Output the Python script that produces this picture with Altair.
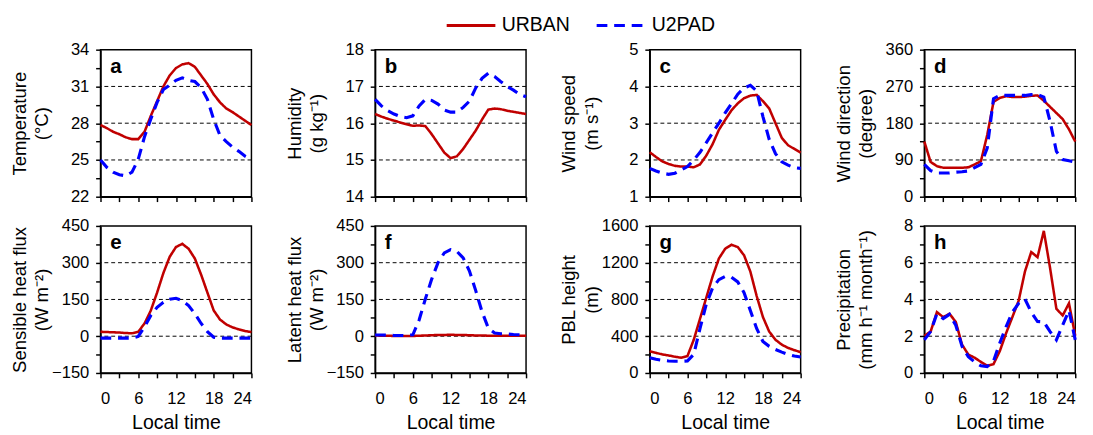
import altair as alt
import pandas as pd

# ---------------- data ----------------
hours = list(range(25))
series_names = ["URBAN", "U2PAD"]
x_ticks = [0, 3, 6, 9, 12, 15, 18, 21, 24]
x_labels = [0, 6, 12, 18, 24]

# a Temperature
temp_urban = [27.85, 27.6, 27.3, 27.1, 26.85, 26.7, 26.7, 27.3, 28.6, 29.8, 31.0, 31.9, 32.5,
              32.8, 32.9, 32.6, 31.9, 31.2, 30.35, 29.7, 29.2, 28.9, 28.55, 28.2, 27.85]
temp_u2pad = [25.0, 24.4, 24.0, 23.8, 23.7, 24.0, 25.05, 26.9, 28.35, 29.7, 30.75, 31.1, 31.5,
              31.7, 31.5, 31.4, 30.9, 29.95, 28.3, 27.0, 26.5, 26.05, 25.7, 25.3, 25.0]
temp_ticks = [22, 23.5, 25, 26.5, 28, 29.5, 31, 32.5, 34]
temp_labels = [22, 25, 28, 31, 34]
temp_grid = [25, 28, 31]

# b Humidity
hum_urban = [16.25, 16.18, 16.12, 16.07, 16.02, 15.97, 15.93, 15.94, 15.92, 15.7, 15.45, 15.2, 15.05,
             15.1, 15.3, 15.55, 15.8, 16.1, 16.37, 16.4, 16.38, 16.34, 16.31, 16.28, 16.25]
hum_u2pad = [16.65, 16.47, 16.34, 16.25, 16.18, 16.15, 16.2, 16.47, 16.65, 16.62, 16.52, 16.36, 16.3,
             16.3, 16.43, 16.6, 16.96, 17.22, 17.36, 17.27, 17.13, 17.0, 16.9, 16.78, 16.72]
hum_ticks = [14, 14.5, 15, 15.5, 16, 16.5, 17, 17.5, 18]
hum_labels = [14, 15, 16, 17, 18]
hum_grid = [15, 16, 17]

# c Wind speed
ws_urban = [2.21, 2.08, 1.96, 1.89, 1.84, 1.82, 1.82, 1.8, 1.88, 2.12, 2.43, 2.82, 3.09,
            3.35, 3.54, 3.68, 3.75, 3.77, 3.6, 3.4, 3.0, 2.6, 2.4, 2.3, 2.2]
ws_u2pad = [1.77, 1.7, 1.64, 1.61, 1.64, 1.73, 1.82, 2.0, 2.21, 2.47, 2.74, 3.0, 3.28,
            3.53, 3.79, 3.96, 4.03, 3.88, 3.18, 2.56, 2.17, 1.95, 1.86, 1.79, 1.77]
ws_ticks = [1, 1.5, 2, 2.5, 3, 3.5, 4, 4.5, 5]
ws_labels = [1, 2, 3, 4, 5]
ws_grid = [2, 3, 4]

# d Wind direction
wd_urban = [135, 85, 75, 71, 71, 71, 71, 72, 79, 87, 151, 232, 242,
            246, 244, 244, 245, 247, 248, 235, 220, 205, 190, 165, 135]
wd_u2pad = [79, 64, 58, 58, 58, 60, 61, 63, 71, 79, 119, 240, 248,
            248, 248, 248, 248, 250, 250, 244, 184, 111, 91, 88, 85]
wd_ticks = [0, 45, 90, 135, 180, 225, 270, 315, 360]
wd_labels = [0, 90, 180, 270, 360]
wd_grid = [90, 180, 270]

# e Sensible heat flux
sh_urban = [18, 17, 16, 15, 13, 12, 18, 52, 105, 178, 258, 324, 364,
            377, 357, 317, 251, 178, 105, 68, 48, 36, 28, 21, 17]
sh_u2pad = [-8, -8, -8, -8, -8, -8, -1, 38, 85, 118, 138, 151, 155,
            145, 125, 92, 52, 19, -4, -8, -8, -8, -8, -8, -8]
flux_ticks = [-150, -75, 0, 75, 150, 225, 300, 375, 450]
flux_labels = [-150, 0, 150, 300, 450]
flux_grid = [0, 150, 300]

# f Latent heat flux
lh_urban = [3, 2, 2, 1, 1, 1, 1, 2, 3, 4, 5, 5, 6, 5, 5, 4, 3, 3, 2, 2, 2, 2, 2, 2, 2]
lh_u2pad = [5, 5, 4, 3, 3, 3, 6, 66, 153, 233, 300, 340, 353,
            346, 320, 266, 186, 100, 33, 13, 10, 9, 7, 6, 5]

# g PBL height
pbl_urban = [237, 219, 202, 191, 177, 166, 184, 361, 591, 821, 1051, 1246, 1352,
             1395, 1370, 1281, 1104, 839, 609, 450, 361, 308, 273, 248, 227]
pbl_u2pad = [166, 149, 138, 131, 127, 127, 131, 202, 485, 750, 927, 1016, 1051,
             1041, 991, 874, 680, 485, 343, 290, 255, 227, 202, 184, 173]
pbl_ticks = [0, 200, 400, 600, 800, 1000, 1200, 1400, 1600]
pbl_labels = [0, 400, 800, 1200, 1600]
pbl_grid = [400, 800, 1200]

# h Precipitation
pr_urban = [2.02, 2.25, 3.31, 3.04, 3.22, 2.78, 1.54, 1.0, 0.83, 0.6, 0.39, 0.48, 1.19,
            2.16, 3.04, 3.93, 5.52, 6.58, 6.3, 7.73, 5.7, 3.49, 3.13, 3.79, 2.02]
pr_u2pad = [1.8, 2.25, 3.22, 2.96, 3.19, 2.6, 1.45, 0.88, 0.6, 0.39, 0.35, 0.65, 1.63,
            2.51, 3.31, 3.79, 4.02, 3.31, 2.8, 2.78, 2.25, 1.8, 2.6, 3.4, 1.8]
pr_ticks = [0, 1, 2, 3, 4, 5, 6, 7, 8]
pr_labels = [0, 2, 4, 6, 8]
pr_grid = [2, 4, 6]

# ---------------- styling ----------------
RED = "#C00000"
BLUE = "#0000FF"
FONT = "Liberation Sans"
PW, PH = 155, 151

legend = alt.Legend(orient="none", legendX=354, legendY=-51.5, direction="horizontal",
                    title=None, symbolType="stroke", symbolSize=2500, symbolStrokeWidth=3,
                    labelFontSize=20, labelFont=FONT, labelColor="black",
                    columnPadding=20, labelOffset=5)
color_enc = alt.Color("series:N", scale=alt.Scale(domain=series_names, range=[RED, BLUE]),
                      legend=legend)
dash_enc = alt.StrokeDash("series:N",
                          scale=alt.Scale(domain=series_names, range=[[1, 0], [11, 7]]),
                          legend=legend)


def panel(letter, title, urban, u2pad, ydom, yticks, ylabels, grid, bottom):
    df = pd.DataFrame({
        "hour": hours * 2,
        "value": urban + u2pad,
        "series": ["URBAN"] * len(hours) + ["U2PAD"] * len(hours),
    })
    gdf = pd.DataFrame({"value": grid})
    label_list = ",".join(str(v) for v in ylabels)
    xlabel_list = ",".join(str(v) for v in x_labels)
    yaxis = alt.Axis(values=yticks, title=title, format="d",
                     labelExpr=f"indexof([{label_list}], datum.value) >= 0 ? datum.label : ''",
                     minExtent=45, maxExtent=45, titlePadding=5, labelPadding=7,
                     titleFontSize=19, titleLineHeight=23)
    xaxis = alt.Axis(values=x_ticks, title="Local time" if bottom else None, labels=bottom,
                     format="d",
                     labelExpr=f"indexof([{xlabel_list}], datum.value) >= 0 ? datum.label : ''",
                     labelPadding=13, titlePadding=7, titleFontSize=20)
    xs = alt.Scale(domain=[0, 24], nice=False)
    ys = alt.Scale(domain=ydom, nice=False, zero=False)
    x_enc = alt.X("hour:Q", scale=xs, axis=xaxis)
    y_enc = alt.Y("value:Q", scale=ys, axis=yaxis)

    gridlines = alt.Chart(gdf).mark_rule(color="black", strokeDash=[4, 3], strokeWidth=1).encode(
        y=y_enc)
    base = alt.Chart(df)
    urban_line = base.mark_line(strokeWidth=2.6).encode(
        x=x_enc, y=y_enc, color=color_enc, strokeDash=dash_enc
    ).transform_filter(alt.datum.series == "URBAN")
    u2pad_line = base.mark_line(strokeWidth=3.2).encode(
        x=x_enc, y=y_enc, color=color_enc, strokeDash=dash_enc
    ).transform_filter(alt.datum.series == "U2PAD")
    tag = alt.Chart(pd.DataFrame({"t": [letter]})).mark_text(
        align="left", baseline="alphabetic", fontSize=21, fontWeight="bold", font=FONT,
        color="black", x=10, y=24).encode(text="t:N")
    return alt.layer(gridlines, urban_line, u2pad_line, tag).properties(width=PW, height=PH)


panels = [
    panel("a", ["Temperature", "(°C)"], temp_urban, temp_u2pad, [22, 34], temp_ticks, temp_labels, temp_grid, False),
    panel("b", ["Humidity", "(g kg⁻¹)"], hum_urban, hum_u2pad, [14, 18], hum_ticks, hum_labels, hum_grid, False),
    panel("c", ["Wind speed", "(m s⁻¹)"], ws_urban, ws_u2pad, [1, 5], ws_ticks, ws_labels, ws_grid, False),
    panel("d", ["Wind direction", "(degree)"], wd_urban, wd_u2pad, [0, 360], wd_ticks, wd_labels, wd_grid, False),
    panel("e", ["Sensible heat flux", "(W m⁻²)"], sh_urban, sh_u2pad, [-150, 450], flux_ticks, flux_labels, flux_grid, True),
    panel("f", ["Latent heat flux", "(W m⁻²)"], lh_urban, lh_u2pad, [-150, 450], flux_ticks, flux_labels, flux_grid, True),
    panel("g", ["PBL height", "(m)"], pbl_urban, pbl_u2pad, [0, 1600], pbl_ticks, pbl_labels, pbl_grid, True),
    panel("h", ["Precipitation", "(mm h⁻¹ month⁻¹)"], pr_urban, pr_u2pad, [0, 8], pr_ticks, pr_labels, pr_grid, True),
]

chart = alt.concat(
    *panels, columns=4, spacing={"row": 30, "column": 127}, bounds="flush"
).resolve_scale(
    color="shared", strokeDash="shared"
).properties(
    padding={"top": -15, "left": 2, "right": 2, "bottom": 0}, background="white"
).configure_view(
    stroke="black", strokeWidth=1.5
).configure_axis(
    domainColor="black", domainWidth=1.5, tickColor="black", tickWidth=1.5, tickSize=5,
    labelColor="black", labelFont=FONT, labelFontSize=17, titleFont=FONT,
    titleFontWeight="normal", titleColor="black", grid=False,
)

chart.save("out.html", embed_options={"renderer": "svg", "actions": False})
